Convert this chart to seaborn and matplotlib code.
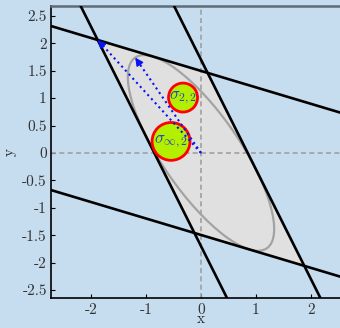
import numpy as np
import matplotlib
matplotlib.use("Agg")
import matplotlib.pyplot as plt
from matplotlib.patches import Polygon, Ellipse, Circle
import seaborn as sns

# ---- data ----
# linear map A (columns = images of unit basis vectors)
A = np.array([[-0.88, 1.00],
              [1.76, -0.30]])
square_corners = np.array([[1, 1], [-1, 1], [-1, -1], [1, -1]])  # unit l_inf ball corners
vertex_arrow_corner = np.array([1, -1])
circle_centers = [(-0.327, 1.01), (-0.545, 0.21)]
circle_radii = [0.264, 0.345]
circle_labels = [r"$\sigma_{2,2}$", r"$\sigma_{\infty,2}$"]
xticks = [-2, -1, 0, 1, 2]
xticklabels = ["-2", "-1", "0", "1", "2"]
yticks = [2.5, 2, 1.5, 1, 0.5, 0, -0.5, -1, -1.5, -2, -2.5]
yticklabels = ["2.5", "2", "1.5", "1", "0.5", "0", "-0.5", "-1", "-1.5", "-2", "-2.5"]
xlim = (-2.73, 2.73)
ylim = (-2.646, 2.68)

# ---- style ----
sns.set_theme(style="ticks")
bg = "#c6dcef"
plt.rcParams["font.family"] = ["cmr10", "DejaVu Serif"]
plt.rcParams["mathtext.fontset"] = "cm"
plt.rcParams["axes.unicode_minus"] = False
plt.rcParams["axes.formatter.use_mathtext"] = False

fig = plt.figure(figsize=(3.4, 3.28), dpi=100, facecolor=bg)
ax = fig.add_axes([51 / 340, 30 / 328, 300 / 340, 292 / 328])
ax.set_facecolor(bg)

# parallelogram = A * unit square
verts = (A @ square_corners.T).T
ax.add_patch(Polygon(verts, closed=True, facecolor="#e0e0e0", edgecolor="none", zorder=1))

# ellipse = A * unit circle
U, S, Vt = np.linalg.svd(A)
u1 = U[:, 0]
if u1[1] < 0:
    u1 = -u1
ang = np.degrees(np.arctan2(U[1, 0], U[0, 0]))
ax.add_patch(Ellipse((0, 0), 2 * S[0], 2 * S[1], angle=ang, facecolor="none",
                     edgecolor="#a3a3a3", lw=1.6, zorder=2))

# zero lines
ax.axhline(0, color="#a0a0a0", lw=1.2, ls=(0, (3, 2)), zorder=2)
ax.axvline(0, color="#a0a0a0", lw=1.2, ls=(0, (3, 2)), zorder=2)

# sides extended as lines
for i in range(4):
    p, q = verts[i], verts[(i + 1) % 4]
    ax.axline(tuple(p), tuple(q), color="black", lw=1.9, zorder=3)

# circles with labels
for c, r, lab in zip(circle_centers, circle_radii, circle_labels):
    ax.add_patch(Circle(c, r, facecolor="#b2f000", edgecolor="#ff0000", lw=2.0, zorder=4))
    ax.text(c[0], c[1], lab, color="#2a40c8", fontsize=12, ha="center", va="center", zorder=5)

# dotted arrows
tips = [A @ vertex_arrow_corner, S[0] * u1]
for t in tips:
    ax.plot([0, t[0]], [0, t[1]], color="#0a14f0", lw=1.5, ls=":", zorder=6)
    d = t / np.linalg.norm(t)
    ax.annotate("", xy=tuple(t), xytext=tuple(t - 0.16 * d),
                arrowprops=dict(arrowstyle="-|>", color="#0a14f0", lw=1.0,
                                mutation_scale=12, shrinkA=0, shrinkB=0), zorder=6)

ax.set_xlim(*xlim)
ax.set_ylim(*ylim)
ax.set_xticks(xticks)
ax.set_xticklabels(xticklabels)
ax.set_yticks(yticks)
ax.set_yticklabels(yticklabels)
ax.tick_params(direction="in", length=3, width=0.8, labelsize=11, colors="black",
               labelcolor="#333333")
ax.tick_params(axis="x", pad=4)
ax.tick_params(axis="y", pad=3)
ax.set_xlabel("x", fontsize=11, labelpad=-3.5, color="#333333")
ax.set_ylabel("y", fontsize=11, labelpad=4, color="#333333")

for s in ["left", "bottom"]:
    ax.spines[s].set_color("black")
    ax.spines[s].set_linewidth(1.2)
ax.spines["top"].set_color("#5f6b78")
ax.spines["top"].set_linewidth(1.8)
ax.spines["right"].set_visible(False)

fig.savefig("out.png", dpi=100, facecolor=bg)
